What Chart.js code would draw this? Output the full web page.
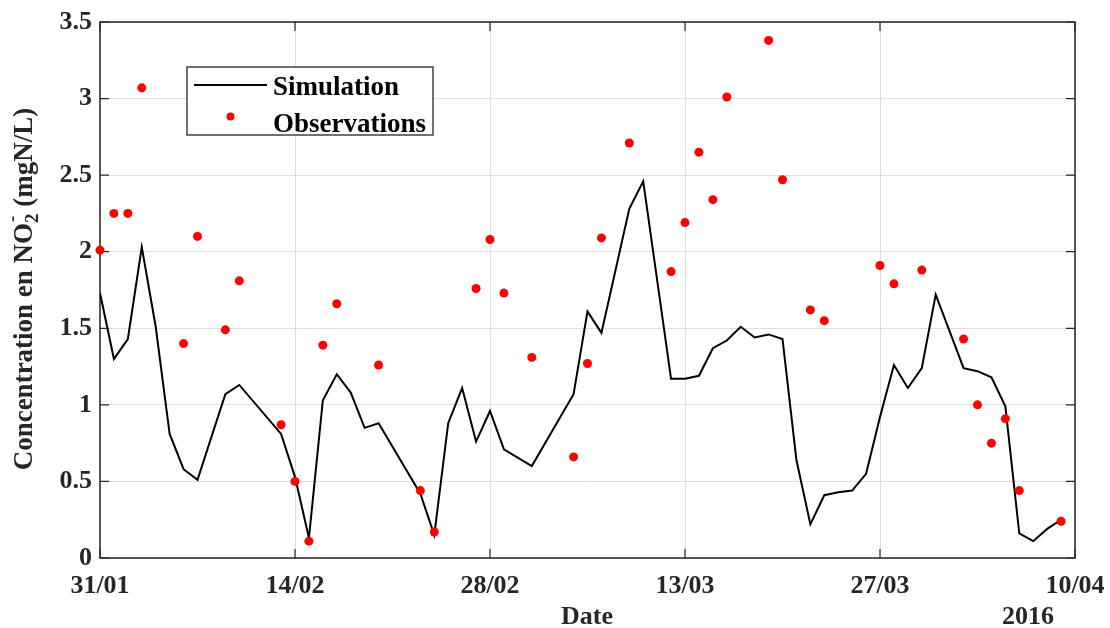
<!DOCTYPE html>
<html>
<head>
<meta charset="utf-8">
<script src="https://cdn.jsdelivr.net/npm/chart.js@4.4.1/dist/chart.umd.min.js"></script>
<style>
  html, body { margin: 0; padding: 0; background: #fff; }
  #wrap { width: 1110px; height: 628px; }
</style>
</head>
<body>
<div id="wrap"><canvas id="no2_chart"></canvas></div>
<script>
// dates (2016) and values
var simDates = ['2016-01-31','2016-02-01','2016-02-02','2016-02-03','2016-02-04','2016-02-05','2016-02-06','2016-02-07',
    '2016-02-09','2016-02-10','2016-02-13','2016-02-14','2016-02-15','2016-02-16','2016-02-17','2016-02-18','2016-02-19',
    '2016-02-20','2016-02-23','2016-02-24','2016-02-25','2016-02-26','2016-02-27','2016-02-28','2016-02-29','2016-03-02',
    '2016-03-05','2016-03-06','2016-03-07','2016-03-09','2016-03-10','2016-03-12','2016-03-13','2016-03-14','2016-03-15',
    '2016-03-16','2016-03-17','2016-03-18','2016-03-19','2016-03-20','2016-03-21','2016-03-22','2016-03-23','2016-03-24',
    '2016-03-25','2016-03-26','2016-03-27','2016-03-28','2016-03-29','2016-03-30','2016-03-31','2016-04-02','2016-04-03',
    '2016-04-04','2016-04-05','2016-04-06','2016-04-07','2016-04-08','2016-04-09'];
var simValues = [1.73, 1.30, 1.43, 2.03, 1.51, 0.81, 0.58, 0.51,
    1.07, 1.13, 0.81, 0.53, 0.13, 1.03, 1.20, 1.08, 0.85,
    0.88, 0.42, 0.15, 0.88, 1.11, 0.76, 0.96, 0.71, 0.60,
    1.07, 1.61, 1.47, 2.28, 2.46, 1.17, 1.17, 1.19, 1.37,
    1.42, 1.51, 1.44, 1.46, 1.43, 0.64, 0.22, 0.41, 0.43,
    0.44, 0.55, 0.92, 1.26, 1.11, 1.24, 1.72, 1.24, 1.22,
    1.18, 0.99, 0.16, 0.11, 0.19, 0.25];

var obsDates = ['2016-01-31','2016-02-01','2016-02-02','2016-02-03','2016-02-06','2016-02-07','2016-02-09','2016-02-10',
    '2016-02-13','2016-02-14','2016-02-15','2016-02-16','2016-02-17','2016-02-20','2016-02-23','2016-02-24','2016-02-27',
    '2016-02-28','2016-02-29','2016-03-02','2016-03-05','2016-03-06','2016-03-07','2016-03-09','2016-03-12','2016-03-13',
    '2016-03-14','2016-03-15','2016-03-16','2016-03-19','2016-03-20','2016-03-22','2016-03-23','2016-03-27','2016-03-28',
    '2016-03-30','2016-04-02','2016-04-03','2016-04-04','2016-04-05','2016-04-06','2016-04-09'];
var obsValues = [2.01, 2.25, 2.25, 3.07, 1.40, 2.10, 1.49, 1.81,
    0.87, 0.50, 0.11, 1.39, 1.66, 1.26, 0.44, 0.17, 1.76,
    2.08, 1.73, 1.31, 0.66, 1.27, 2.09, 2.71, 1.87, 2.19,
    2.65, 2.34, 3.01, 3.38, 2.47, 1.62, 1.55, 1.91, 1.79,
    1.88, 1.43, 1.00, 0.75, 0.91, 0.44, 0.24];

var xTickLabels = ['31/01', '14/02', '28/02', '13/03', '27/03', '10/04'];
var yTickLabels = ['0', '0.5', '1', '1.5', '2', '2.5', '3', '3.5'];

var startDay = Date.UTC(2016, 0, 31);
function dayOf(s) {
    var p = s.split('-');
    return (Date.UTC(+p[0], +p[1] - 1, +p[2]) - startDay) / 86400000;
}
function toPoints(dates, values) {
    return dates.map(function (d, i) { return { x: dayOf(d), y: values[i] }; });
}

var serif = "'Liberation Serif', 'Times New Roman', serif";
var ink = '#262626';

// box, inward ticks, axis texts and legend, MATLAB style
var decorations = {
    id: 'decorations',
    beforeDatasetsDraw: function (chart) {
        var c = chart.ctx, a = chart.chartArea;
        var xs = chart.scales.x, ys = chart.scales.y;
        c.save();
        c.strokeStyle = ink;
        c.lineWidth = 1.5;
        c.strokeRect(a.left, a.top, a.right - a.left, a.bottom - a.top);
        c.lineWidth = 1.2;
        c.beginPath();
        xs.ticks.forEach(function (t) {
            var px = xs.getPixelForValue(t.value);
            c.moveTo(px, a.bottom); c.lineTo(px, a.bottom - 9);
            c.moveTo(px, a.top); c.lineTo(px, a.top + 9);
        });
        ys.ticks.forEach(function (t) {
            var py = ys.getPixelForValue(t.value);
            c.moveTo(a.left, py); c.lineTo(a.left + 9, py);
            c.moveTo(a.right, py); c.lineTo(a.right - 9, py);
        });
        c.stroke();
        c.restore();
    },
    afterDraw: function (chart) {
        var c = chart.ctx;
        c.save();
        c.fillStyle = ink;
        c.font = 'bold 26px ' + serif;
        c.textAlign = 'center';
        c.textBaseline = 'alphabetic';
        c.fillText('Date', 587, 624);
        c.fillText('2016', 1028, 624);

        // y title with NO2- (sub 2, sup minus)
        var big = 'bold 27px ' + serif, small = 'bold 19px ' + serif;
        var p1 = 'Concentration en NO', p3 = ' (mgN/L)';
        c.font = big;
        var w1 = c.measureText(p1).width, w3 = c.measureText(p3).width;
        c.font = small;
        var w2 = c.measureText('2').width;
        var total = w1 + w2 + w3;
        c.translate(32, 289);
        c.rotate(-Math.PI / 2);
        c.textAlign = 'left';
        var x0 = -total / 2;
        c.font = big;
        c.fillText(p1, x0, 0);
        c.font = small;
        c.fillText('2', x0 + w1, 6);
        c.fillText('-', x0 + w1 + 1, -14);
        c.font = big;
        c.fillText(p3, x0 + w1 + w2, 0);
        c.restore();

        // legend
        var sim = chart.data.datasets[1], obs = chart.data.datasets[0];
        c.save();
        c.fillStyle = '#fff';
        c.fillRect(187, 67, 246, 68);
        c.strokeStyle = ink;
        c.lineWidth = 1.3;
        c.strokeRect(187, 67, 246, 68);
        c.strokeStyle = sim.borderColor;
        c.lineWidth = sim.borderWidth;
        c.beginPath(); c.moveTo(194, 85); c.lineTo(267, 85); c.stroke();
        c.fillStyle = obs.backgroundColor;
        c.beginPath(); c.arc(230.5, 116.5, 4, 0, Math.PI * 2); c.fill();
        c.fillStyle = '#000';
        c.font = 'bold 27px ' + serif;
        c.textBaseline = 'alphabetic';
        c.fillText(sim.label, 273, 95);
        c.fillText(obs.label, 273, 132);
        c.restore();
    }
};

var ctx = document.getElementById('no2_chart').getContext('2d');
var no2Chart = new Chart(ctx, {
    type: 'scatter',
    data: {
        datasets: [{
            label: 'Observations',
            data: toPoints(obsDates, obsValues),
            backgroundColor: '#ff0000',
            borderWidth: 0,
            pointRadius: 4.5,
            pointHoverRadius: 4.5,
            clip: false,
            order: 0
        }, {
            label: 'Simulation',
            data: toPoints(simDates, simValues),
            showLine: true,
            borderColor: '#000000',
            borderWidth: 2,
            pointRadius: 0,
            tension: 0,
            fill: false,
            order: 1
        }]
    },
    options: {
        responsive: true,
        maintainAspectRatio: false,
        animation: false,
        layout: { padding: { top: 22, right: 35, left: 0, bottom: 0 } },
        plugins: {
            legend: { display: false },
            tooltip: { enabled: false }
        },
        scales: {
            x: {
                type: 'linear',
                min: 0,
                max: 70,
                afterBuildTicks: function (scale) {
                    scale.ticks = xTickLabels.map(function (l, i) { return { value: i * 14 }; });
                },
                afterFit: function (scale) {
                    scale.height = 70;
                    scale.paddingLeft = 0;
                    scale.paddingRight = 0;
                },
                ticks: {
                    callback: function (v) { return xTickLabels[v / 14]; },
                    font: { family: serif, size: 26, weight: 'bold' },
                    color: ink,
                    padding: 13,
                    maxRotation: 0
                },
                grid: { color: '#dedede', lineWidth: 1, drawTicks: false },
                border: { display: false }
            },
            y: {
                min: 0,
                max: 3.5,
                afterBuildTicks: function (scale) {
                    scale.ticks = yTickLabels.map(function (l) { return { value: parseFloat(l) }; });
                },
                afterFit: function (scale) {
                    scale.width = 100;
                    scale.paddingTop = 0;
                    scale.paddingBottom = 0;
                },
                ticks: {
                    callback: function (v) { return yTickLabels[Math.round(v * 2)]; },
                    font: { family: serif, size: 26, weight: 'bold' },
                    color: ink,
                    padding: 8
                },
                grid: { color: '#dedede', lineWidth: 1, drawTicks: false },
                border: { display: false }
            }
        }
    },
    plugins: [decorations]
});
</script>
</body>
</html>
